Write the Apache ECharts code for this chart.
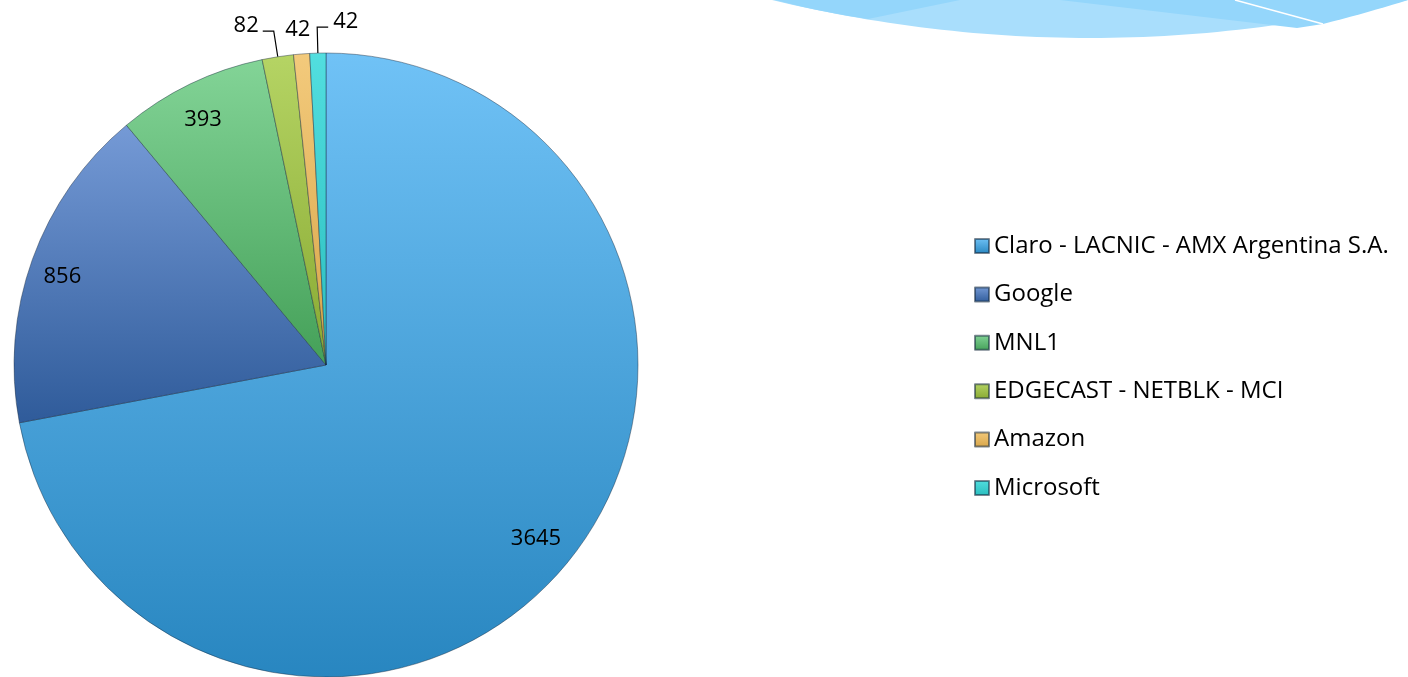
<!DOCTYPE html>
<html>
<head>
<meta charset="utf-8">
<script src="https://cdn.jsdelivr.net/npm/echarts@6/dist/echarts.min.js"></script>
<style>
html,body{margin:0;padding:0;background:#fff;}
#chart{width:1408px;height:677px;}
</style>
</head>
<body>
<div id="chart"></div>
<script>
const categories = ['Claro - LACNIC - AMX Argentina S.A.', 'Google', 'MNL1', 'EDGECAST - NETBLK - MCI', 'Amazon', 'Microsoft'];
const values = [3645, 856, 393, 82, 42, 42];
const topColors = ['#70C2F6', '#759AD6', '#83D497', '#B5D464', '#F3CA7C', '#52DEDF'];
const bottomColors = ['#2886C0', '#2F5B9A', '#44A058', '#88A932', '#D7A548', '#2ABDBE'];
const innerLabelIdx = [0, 1, 2];

const chart = echarts.init(document.getElementById('chart'));
const FONT = '"Open Sans", "Noto Sans", sans-serif';

function grad(i) {
  return new echarts.graphic.LinearGradient(0, 0, 0, 1, [
    { offset: 0, color: topColors[i] },
    { offset: 1, color: bottomColors[i] }
  ]);
}

// decorative swoosh (not data): quadratic curve sampled into polygon points
function quad(p0, c, p1, n) {
  const pts = [];
  for (let k = 0; k <= n; k++) {
    const t = k / n, u = 1 - t;
    pts.push([u * u * p0[0] + 2 * u * t * c[0] + t * t * p1[0], u * u * p0[1] + 2 * u * t * c[1] + t * t * p1[1]]);
  }
  return pts;
}
const swooshOuter = quad([772, 0], [1090, 76], [1408, 0], 60);
const leftDark = [[775, 0]].concat(quad([775, 0], [820, 12], [868, 19], 10)).concat([[960, 0]]);
const rightDark = [[1060, 0], [1297, 28], [1323, 24]].concat(quad([1323, 24], [1370, 12], [1408, 0], 10));

const mainData = categories.map((name, i) => {
  const d = { name: name, value: values[i], itemStyle: { color: grad(i) } };
  if (innerLabelIdx.indexOf(i) >= 0) {
    d.label = { show: false };
    d.labelLine = { show: false };
  }
  if (i === 4) {
    d.labelLine = { show: false, length: 4, length2: 0 };
  }
  return d;
});

const labelData = categories.map((name, i) => ({
  name: name,
  value: values[i],
  label: { show: innerLabelIdx.indexOf(i) >= 0 }
}));

const option = {
  animation: false,
  backgroundColor: '#ffffff',
  graphic: [
    { type: 'polygon', silent: true, z: -10, shape: { points: swooshOuter }, style: { fill: '#A9DEFC' } },
    { type: 'polygon', silent: true, z: -9, shape: { points: leftDark }, style: { fill: '#94D6FB' } },
    { type: 'polygon', silent: true, z: -9, shape: { points: rightDark }, style: { fill: '#94D6FB' } },
    { type: 'line', silent: true, z: -8, shape: { x1: 1235, y1: 0, x2: 1323, y2: 24 }, style: { stroke: '#ffffff', lineWidth: 1.5 } }
  ],
  legend: {
    orient: 'vertical',
    left: 974,
    top: 234,
    padding: 0,
    itemWidth: 14,
    itemHeight: 14,
    itemGap: 24.4,
    icon: 'rect',
    data: categories,
    textStyle: { fontFamily: FONT, fontSize: 24, color: '#000', padding: [0, 0, 0, 0] }
  },
  series: [
    {
      type: 'pie',
      center: [326, 365],
      radius: [0, 312],
      startAngle: 90,
      clockwise: true,
      avoidLabelOverlap: false,
      data: mainData,
      itemStyle: { borderColor: 'rgba(20,40,60,0.55)', borderWidth: 0.8 },
      label: {
        show: true,
        position: 'outside',
        formatter: '{c}',
        fontFamily: FONT,
        fontSize: 22,
        color: '#000',
        distanceToLabelLine: 4
      },
      labelLine: {
        show: true,
        length: 26,
        length2: 11,
        smooth: false,
        lineStyle: { color: '#000', width: 1.2 }
      },
      labelLayout: function (p) {
        if (p.dataIndex === 5 && p.labelLinePoints) {
          const pts = p.labelLinePoints;
          const p1 = pts[1];
          const len2 = Math.abs(pts[2][0] - p1[0]);
          const end = [p1[0] + len2, p1[1]];
          return {
            labelLinePoints: [pts[0], p1, end],
            x: end[0] + 5,
            y: end[1] - 5,
            align: 'left',
            verticalAlign: 'middle'
          };
        }
        if (p.dataIndex === 3) {
          return { dy: -5 };
        }
        if (p.dataIndex === 4) {
          return { dx: 13, dy: -20 };
        }
      },
      emphasis: { disabled: true }
    },
    {
      type: 'pie',
      center: [326, 365],
      radius: [238, 312],
      startAngle: 90,
      clockwise: true,
      silent: true,
      avoidLabelOverlap: false,
      data: labelData,
      itemStyle: { color: 'rgba(0,0,0,0)', borderWidth: 0 },
      label: {
        position: 'inside',
        formatter: '{c}',
        fontFamily: FONT,
        fontSize: 22,
        color: '#000'
      },
      labelLayout: function (p) {
        if (p.dataIndex === 0) return { dx: -4, dy: -4 };
        if (p.dataIndex === 1) return { dx: -2, dy: 6 };
        if (p.dataIndex === 2) return { dx: -2, dy: 5 };
      },
      labelLine: { show: false },
      legendHoverLink: false,
      emphasis: { disabled: true }
    }
  ]
};
chart.setOption(option);
</script>
</body>
</html>
